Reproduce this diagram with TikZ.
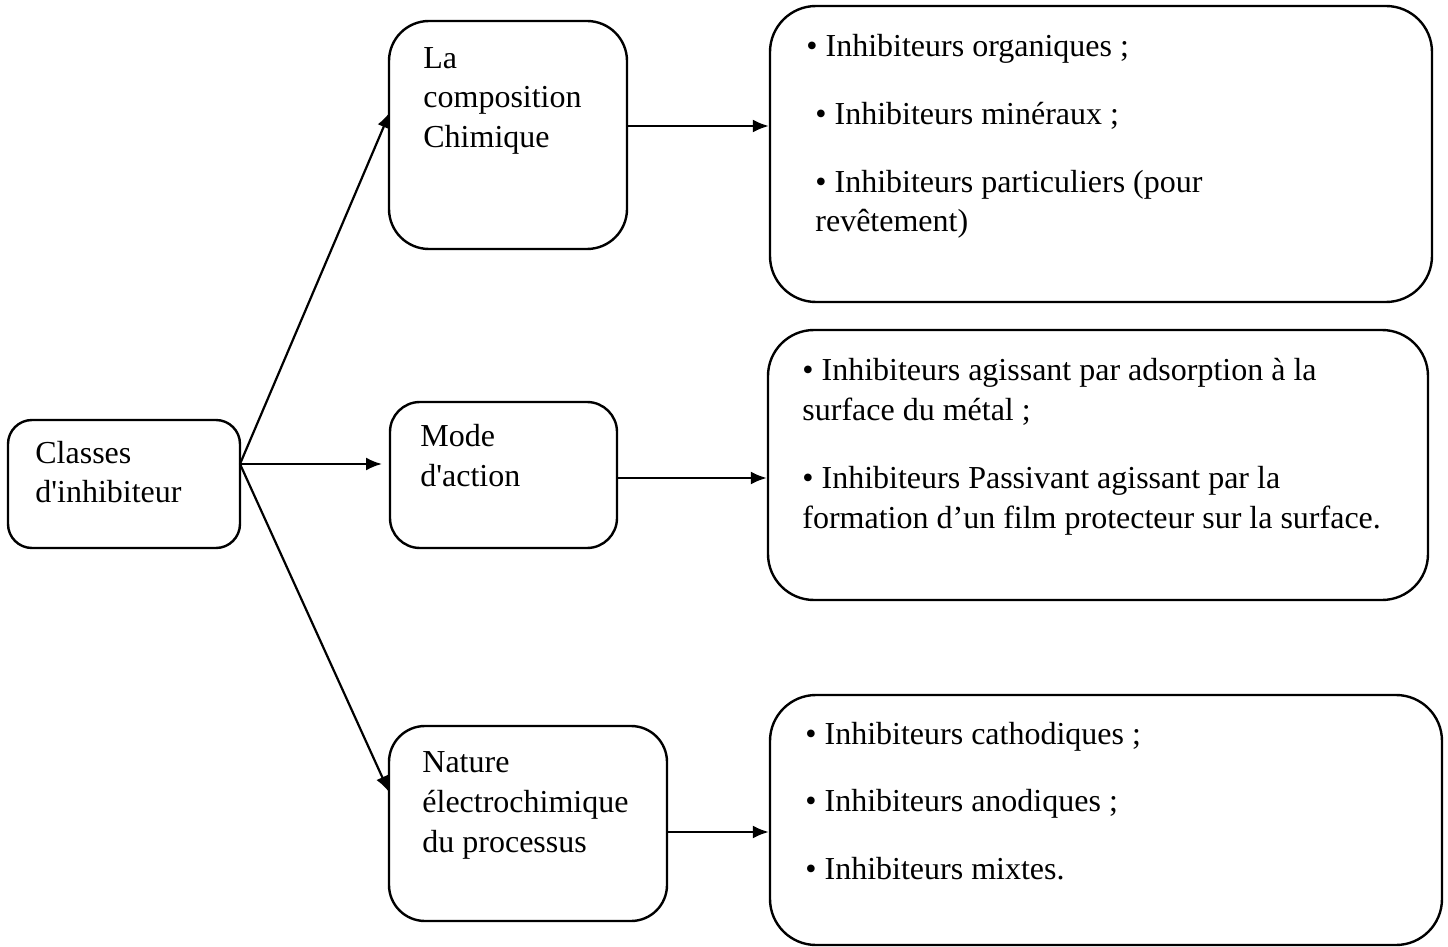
\documentclass[tikz,border=0pt]{standalone}
\usepackage{fontspec}
\setmainfont{Liberation Serif}
\usetikzlibrary{arrows.meta,fit}
\begin{document}
\begin{tikzpicture}[x=0.5pt,y=-0.5pt,
  box/.style={draw, line width=1.2pt, rounded corners=#1, inner sep=0pt},
  box/.default=15pt,
  txt/.style={anchor=base west, inner sep=0pt, font=\fontsize{16}{19}\selectfont},
  arr/.style={line width=1.1pt, -{Latex[length=8pt,width=6.5pt]}}]
\useasboundingbox (0,0) rectangle (1448,947);
% boxes
\node[box=12pt, fit={(8,420) (240,548)}] (cls) {};
\node[box=20pt, fit={(389,21) (627,249)}] (comp) {};
\node[box=15pt, fit={(390,402) (617,548)}] (mode) {};
\node[box=18pt, fit={(389,726) (667,921)}] (nat) {};
\node[box=23pt, fit={(770,6) (1432,302)}] (r1) {};
\node[box=23pt, fit={(768,330) (1428,600)}] (r2) {};
\node[box=23pt, fit={(770,695) (1442,945)}] (r3) {};
% texts
\node[txt] (c1) at (35,463) {Classes};
\node[txt] (c2) at (35,502) {d\textquotesingle inhibiteur};
\node[txt] (k1) at (423,69) {La};
\node[txt] (k2) at (423,108) {composition};
\node[txt] (k3) at (423,148) {Chimique};
\node[txt] (m1) at (420,446) {Mode};
\node[txt] (m2) at (420,486) {d\textquotesingle action};
\node[txt] (n1) at (422,772) {Nature};
\node[txt] (n2) at (422,812) {électrochimique};
\node[txt] (n3) at (422,852) {du processus};
\node[txt] (a1) at (806,57) {• Inhibiteurs organiques ;};
\node[txt] (a2) at (815,125) {• Inhibiteurs minéraux ;};
\node[txt] (a3) at (815,193) {• Inhibiteurs particuliers (pour};
\node[txt] (a4) at (815,232) {revêtement)};
\node[txt] (b1) at (802,380) {• Inhibiteurs agissant par adsorption à la};
\node[txt] (b2) at (802,420) {surface du métal ;};
\node[txt] (b3) at (802,488) {• Inhibiteurs Passivant agissant par la};
\node[txt] (b4) at (802,528) {formation d’un film protecteur sur la surface.};
\node[txt] (d1) at (805,744) {• Inhibiteurs cathodiques ;};
\node[txt] (d2) at (805,811) {• Inhibiteurs anodiques ;};
\node[txt] (d3) at (805,879) {• Inhibiteurs mixtes.};
% connectors
\coordinate (o) at (240,464);
\coordinate (tComp) at (390,112);
\coordinate (tMode) at (382,464);
\coordinate (tNat) at (389,792);
\draw[arr] (o) -- (tComp);
\draw[arr] (o) -- (tMode);
\draw[arr] (o) -- (tNat);
\draw[arr] (comp.east |- 0,126) -- (r1.west |- 0,126);
\draw[arr] (mode.east |- 0,478) -- (r2.west |- 0,478);
\draw[arr] (nat.east |- 0,832) -- (r3.west |- 0,832);
\end{tikzpicture}
\end{document}
